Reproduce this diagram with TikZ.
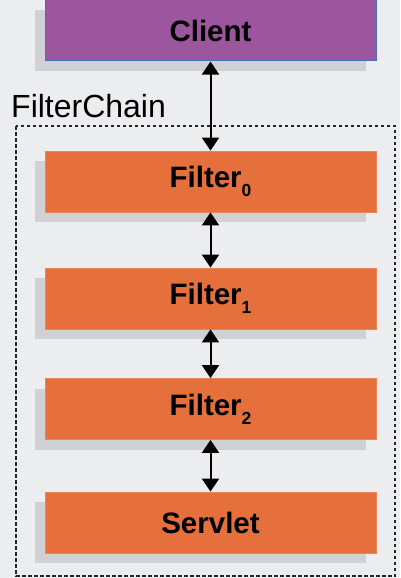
\documentclass[tikz,border=0pt]{standalone}
\usepackage{fontspec}
\setmainfont{Liberation Sans}
\usetikzlibrary{arrows.meta,shadows}
\definecolor{bg}{HTML}{ECEDEF}
\definecolor{clientfill}{HTML}{9B569E}
\definecolor{clientline}{HTML}{4A6FB8}
\definecolor{filterfill}{HTML}{E6703C}
\definecolor{filterline}{HTML}{EE8455}
\definecolor{shade}{HTML}{CFD1D4}
\newcommand\subidx[1]{\raisebox{-9pt}{\fontsize{17.5}{18}\selectfont #1}}
\begin{document}
\begin{tikzpicture}[x=1pt,y=-1pt,
  box/.style={rectangle, minimum width=331pt, minimum height=61pt, inner sep=0pt,
    font=\fontsize{29.5}{31}\selectfont\bfseries, text=black,
    general shadow={shadow xshift=-10pt, shadow yshift=-10pt, fill=shade}},
  clientbox/.style={box, fill=clientfill, draw=clientline, line width=1pt},
  filterbox/.style={box, fill=filterfill, draw=filterline, line width=0.8pt},
  arr/.style={{Triangle[width=17pt,length=13pt]}-{Triangle[width=17pt,length=13pt]}, line width=2pt, black},
  chain/.style={draw=black!85, line width=1.5pt, dash pattern=on 3.5pt off 2.5pt}
]
\fill[bg] (0,0) rectangle (400,578);
\useasboundingbox (0,0) rectangle (400,578);

\draw[chain] (16,126) rectangle (395,576);
\node[anchor=base west, inner sep=0pt, font=\fontsize{32}{34}\selectfont] (label) at (11,117) {FilterChain};

\node[clientbox] (client) at (210.5,30.5) {Client};
\node[filterbox] (f0) at (210.5,181.5) {Filter\subidx{0}};
\node[filterbox] (f1) at (210.5,298.5) {Filter\subidx{1}};
\node[filterbox] (f2) at (210.5,409) {Filter\subidx{2}};
\node[filterbox] (servlet) at (210.5,522.5) {Servlet};

\draw[arr] (client.south) -- (f0.north);
\draw[arr] (f0.south) -- (f1.north);
\draw[arr] (f1.south) -- (f2.north);
\draw[arr] (f2.south) -- (servlet.north);
\end{tikzpicture}
\end{document}
